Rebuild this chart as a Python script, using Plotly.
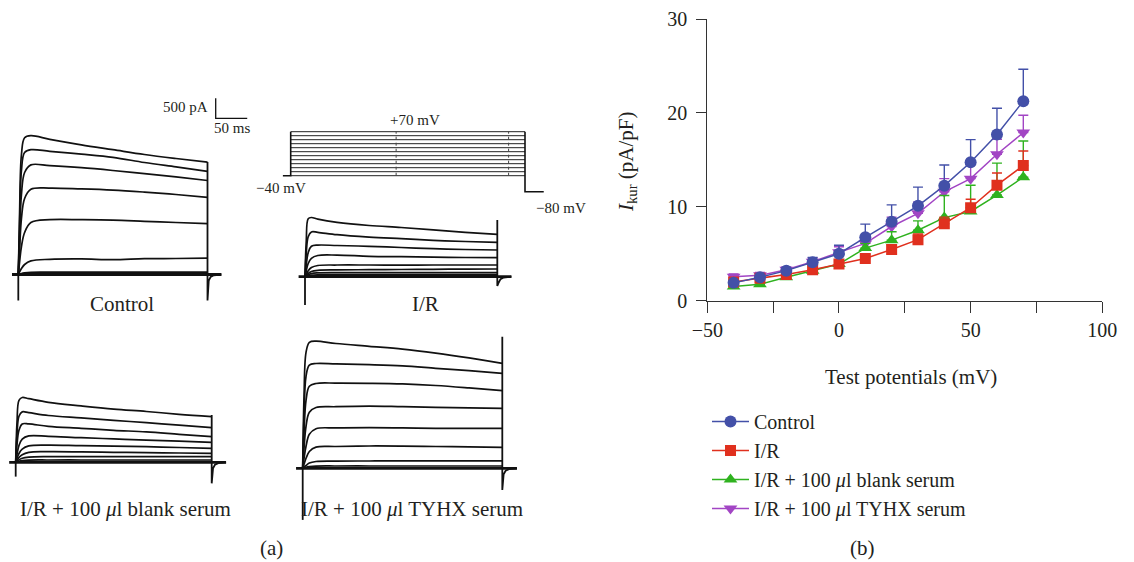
import plotly.graph_objects as go

W, H = 1134, 562
FONT = "Liberation Serif"
INK = "#231f20"

# ---------------- Panel (b) data ----------------
TEST_MV = [-40, -30, -20, -10, 0, 10, 20, 30, 40, 50, 60, 70]
CONTROL = [1.9, 2.5, 3.2, 4.1, 5.0, 6.75, 8.4, 10.1, 12.25, 14.75, 17.7, 21.25]
CONTROL_ERR = [0.2, 0.3, 0.3, 0.5, 0.9, 1.4, 1.8, 2.0, 2.2, 2.4, 2.8, 3.4]
IR = [2.0, 2.4, 2.8, 3.3, 3.9, 4.5, 5.45, 6.5, 8.2, 9.9, 12.3, 14.4]
IR_ERR = [0.2, 0.2, 0.3, 0.3, 0.3, 0.4, 0.5, 0.6, 0.7, 0.9, 1.3, 1.55]
BLANK = [1.5, 1.75, 2.5, 3.2, 3.9, 5.6, 6.45, 7.5, 8.85, 9.5, 11.25, 13.15]
BLANK_ERR = [0.2, 0.2, 0.3, 0.3, 0.4, 0.5, 0.9, 1.0, 2.35, 2.8, 3.4, 3.85]
TYHX = [2.55, 2.7, 3.3, 4.15, 5.15, 6.1, 7.9, 9.3, 11.6, 13.0, 15.6, 17.9]
TYHX_ERR = [0.3, 0.3, 0.3, 0.4, 0.6, 0.8, 1.0, 1.2, 1.4, 1.5, 1.6, 1.85]
SERIES_NAMES = ["Control", "I/R", "I/R + 100 <i>μ</i>l blank serum", "I/R + 100 <i>μ</i>l TYHX serum"]
X_TICKS = [-50, 0, 50, 100]
X_TICKTEXT = ["−50", "0", "50", "100"]
X_MINOR_STEP = 25
Y_TICKS = [0, 10, 20, 30]

# ---------------- Panel (a) data (current traces, pA) ----------------
PULSE_MS = 300
T_MS = [0, 2, 5, 10, 20, 50, 100, 150, 200, 250, 300]
CONTROL_TRACES = [
    [0, 1500, 3000, 3420, 3470, 3380, 3240, 3120, 3000, 2900, 2810],
    [0, 1200, 2600, 3050, 3120, 3080, 3010, 2930, 2800, 2690, 2580],
    [0, 900, 2000, 2550, 2740, 2720, 2670, 2600, 2520, 2440, 2350],
    [0, 600, 1400, 1900, 2130, 2160, 2140, 2110, 2060, 2000, 1930],
    [0, 300, 700, 1050, 1300, 1370, 1370, 1360, 1330, 1300, 1270],
    [0, 60, 150, 250, 340, 380, 390, 370, 395, 400, 408],
    [0, 10, 25, 40, 55, 58, 60, 58, 60, 58, 58],
    [0, 5, 12, 20, 25, 25, 25, 25, 25, 25, 25],
    [0, 2, 5, 8, 10, 10, 10, 10, 10, 10, 10],
]
IR_TRACES = [
    [0, 900, 1450, 1480, 1440, 1360, 1280, 1230, 1170, 1110, 1060],
    [0, 600, 1000, 1120, 1110, 1050, 990, 950, 910, 880, 860],
    [0, 300, 600, 760, 790, 780, 760, 730, 700, 680, 667],
    [0, 150, 330, 460, 530, 540, 510, 500, 490, 480, 475],
    [0, 60, 150, 230, 280, 292, 292, 290, 292, 292, 292],
    [0, 30, 80, 130, 160, 170, 175, 180, 185, 190, 192],
    [0, 20, 50, 80, 95, 100, 100, 100, 100, 100, 100],
    [0, 10, 25, 40, 48, 50, 50, 50, 50, 50, 50],
    [0, 5, 12, 20, 24, 25, 25, 25, 25, 25, 25],
]
BLANK_TRACES = [
    [0, 1000, 1550, 1620, 1590, 1500, 1410, 1330, 1270, 1200, 1142],
    [0, 700, 1150, 1260, 1240, 1170, 1110, 1050, 990, 930, 867],
    [0, 450, 800, 960, 960, 900, 850, 800, 760, 700, 642],
    [0, 200, 420, 580, 660, 650, 615, 585, 555, 530, 500],
    [0, 100, 220, 330, 410, 430, 415, 405, 390, 370, 350],
    [0, 50, 120, 190, 250, 265, 260, 250, 240, 232, 225],
    [0, 20, 60, 100, 130, 142, 142, 142, 142, 142, 142],
    [0, 10, 25, 40, 55, 58, 58, 58, 58, 58, 58],
    [0, 3, 8, 12, 16, 17, 17, 17, 17, 17, 17],
]
TYHX_TRACES = [
    [0, 1800, 2900, 3150, 3180, 3120, 3050, 2980, 2880, 2760, 2625],
    [0, 1300, 2300, 2580, 2620, 2610, 2590, 2560, 2500, 2440, 2375],
    [0, 900, 1700, 2050, 2120, 2130, 2125, 2110, 2070, 2010, 1942],
    [0, 500, 1050, 1400, 1520, 1540, 1555, 1540, 1525, 1510, 1500],
    [0, 250, 550, 850, 990, 1010, 1017, 1010, 1000, 1000, 1000],
    [0, 100, 250, 420, 530, 545, 558, 555, 545, 535, 525],
    [0, 30, 70, 130, 170, 180, 183, 185, 186, 186, 186],
    [0, 10, 25, 40, 55, 58, 58, 58, 58, 58, 58],
]
# capacitive transients (pA): start spike minimum, end vertical top / minimum
START_MIN = {"ctrl": -650, "ir": -708, "blank": -358, "tyhx": -1290}
END_TOP = {"ctrl": 2810, "ir": 1417, "blank": 1183, "tyhx": 3290}
END_MIN = {"ctrl": -650, "ir": -233, "blank": -525, "tyhx": -540}
TAIL_MS = [302, 305, 310, 322]
TAIL_PA = [-150, -60, -20, 0]
PRE_MS = -10
POST_MS = 322
SCALE_PA = 500
SCALE_MS = 50

# voltage protocol (mV)
HOLD_MV = -40
STEPS_MV = [-40, -30, -20, -10, 0, 10, 20, 30, 40, 50, 60, 70]
RETURN_MV = -80
PROTO_MARK_MS = [135, 279]

# ---------------- layout helpers ----------------
PX_PER_PA = 0.04


def dom_x(a, b):
    return [a / W, b / W]


def dom_y(top, bottom):
    return [1 - bottom / H, 1 - top / H]


fig = go.Figure()
layout_axes = {}

PANELS = {
    "ctrl": dict(x0=18.3, x1=207.5, base=274.5, box=(3, 262, 88, 312), data=CONTROL_TRACES, ax=2),
    "ir": dict(x0=305.0, x1=497.3, base=276.7, box=(288, 522, 205, 312), data=IR_TRACES, ax=3),
    "blank": dict(x0=15.7, x1=211.7, base=462.3, box=(2, 240, 385, 490), data=BLANK_TRACES, ax=4),
    "tyhx": dict(x0=302.7, x1=502.3, base=468.3, box=(285, 535, 330, 526), data=TYHX_TRACES, ax=5),
}

hidden = dict(visible=False, showgrid=False, zeroline=False, fixedrange=True, automargin=False)
LINE = dict(color="#111111", width=1.7)

for key, p in PANELS.items():
    pxms = (p["x1"] - p["x0"]) / PULSE_MS
    l, r, t, b = p["box"]
    n = p["ax"]
    xa, ya = f"x{n}", f"y{n}"
    layout_axes[f"xaxis{n}"] = dict(hidden, domain=dom_x(l, r), anchor=ya,
                                    range=[(l - p["x0"]) / pxms, (r - p["x0"]) / pxms])
    layout_axes[f"yaxis{n}"] = dict(hidden, domain=dom_y(t, b), anchor=xa,
                                    range=[(p["base"] - b) / PX_PER_PA, (p["base"] - t) / PX_PER_PA])
    fig.add_trace(go.Scatter(x=[PRE_MS, POST_MS], y=[0, 0], mode="lines", xaxis=xa, yaxis=ya,
                             line=dict(color="#111111", width=2.8), showlegend=False, hoverinfo="skip"))
    fig.add_trace(go.Scatter(x=[0, 0], y=[0, START_MIN[key]], mode="lines", xaxis=xa, yaxis=ya,
                             line=dict(color="#111111", width=1.8), showlegend=False, hoverinfo="skip"))
    for tr in p["data"]:
        fig.add_trace(go.Scatter(x=T_MS, y=tr, mode="lines", xaxis=xa, yaxis=ya, line=LINE,
                                 line_shape="spline", showlegend=False, hoverinfo="skip"))
    fig.add_trace(go.Scatter(x=[PULSE_MS, PULSE_MS] + TAIL_MS,
                             y=[END_TOP[key], END_MIN[key]] + TAIL_PA,
                             mode="lines", xaxis=xa, yaxis=ya,
                             line=dict(color="#111111", width=1.8), showlegend=False, hoverinfo="skip"))
    if key == "ctrl":
        cx = (215.7 - p["x0"]) / pxms
        cy = (p["base"] - 118.3) / PX_PER_PA
        fig.add_trace(go.Scatter(x=[cx, cx, cx + SCALE_MS], y=[cy + SCALE_PA, cy, cy],
                                 mode="lines", xaxis=xa, yaxis=ya,
                                 line=dict(color="#111111", width=1.3), showlegend=False, hoverinfo="skip"))

# voltage protocol axes
PX0, PX1, PXPM, HOLD_PX = 290.7, 525.0, 0.4, 175.7
pms = (PX1 - PX0) / PULSE_MS
pl, pr, pt, pb = 278, 548, 125, 198
layout_axes["xaxis6"] = dict(hidden, domain=dom_x(pl, pr), anchor="y6",
                             range=[(pl - PX0) / pms, (pr - PX0) / pms])
layout_axes["yaxis6"] = dict(hidden, domain=dom_y(pt, pb), anchor="x6",
                             range=[HOLD_MV - (pb - HOLD_PX) / PXPM, HOLD_MV + (HOLD_PX - pt) / PXPM])
for v in STEPS_MV:
    fig.add_trace(go.Scatter(x=[0, PULSE_MS], y=[v, v], mode="lines", xaxis="x6", yaxis="y6",
                             line=dict(color="#222222", width=1.0), showlegend=False, hoverinfo="skip"))
for m in PROTO_MARK_MS:
    fig.add_trace(go.Scatter(x=[m, m], y=[min(STEPS_MV), max(STEPS_MV)], mode="lines", xaxis="x6", yaxis="y6",
                             line=dict(color="#444444", width=1.0, dash="dot"), showlegend=False, hoverinfo="skip"))
fig.add_trace(go.Scatter(x=[PRE_MS, 0, 0], y=[HOLD_MV, HOLD_MV, max(STEPS_MV)], mode="lines",
                         xaxis="x6", yaxis="y6", line=dict(color="#111111", width=1.6),
                         showlegend=False, hoverinfo="skip"))
fig.add_trace(go.Scatter(x=[PULSE_MS, PULSE_MS, PULSE_MS + 24], y=[max(STEPS_MV), RETURN_MV, RETURN_MV],
                         mode="lines", xaxis="x6", yaxis="y6", line=dict(color="#111111", width=1.6),
                         showlegend=False, hoverinfo="skip"))

# ---------------- panel (b) ----------------
COLORS = {"ctrl": "#4350a8", "ir": "#e0301e", "blank": "#2fb21f", "tyhx": "#a245c4"}
series = [
    ("tyhx", TYHX, TYHX_ERR, "triangle-down", 12, 4, SERIES_NAMES[3]),
    ("blank", BLANK, BLANK_ERR, "triangle-up", 12, 3, SERIES_NAMES[2]),
    ("ir", IR, IR_ERR, "square", 11, 2, SERIES_NAMES[1]),
    ("ctrl", CONTROL, CONTROL_ERR, "circle", 12, 1, SERIES_NAMES[0]),
]
for key, ys, err, sym, size, rank, name in series:
    c = COLORS[key]
    fig.add_trace(go.Scatter(
        x=TEST_MV, y=ys, name=name, mode="lines+markers", xaxis="x", yaxis="y",
        line=dict(color=c, width=1.5),
        marker=dict(symbol=sym, size=size, color=c, line=dict(width=0)),
        error_y=dict(type="data", symmetric=False, array=err, arrayminus=[0] * len(err),
                     color=c, thickness=1.4, width=5),
        legendrank=rank, hoverinfo="skip"))

axis_common = dict(showline=True, linecolor="#333333", linewidth=1.3, ticks="outside",
                   tickcolor="#333333", tickwidth=1.3, showgrid=False, zeroline=False,
                   tickfont=dict(family=FONT, size=20, color=INK), fixedrange=True, automargin=False)

layout_axes["xaxis"] = dict(axis_common, domain=dom_x(707.3, 1102.3), anchor="y", range=[-50, 100],
                            tickmode="array", tickvals=X_TICKS, ticktext=X_TICKTEXT, ticklen=11,
                            minor=dict(dtick=X_MINOR_STEP, tick0=-50, ticks="outside", ticklen=11,
                                       tickwidth=1.3, tickcolor="#333333", showgrid=False))
layout_axes["yaxis"] = dict(axis_common, domain=dom_y(19, 300.7), anchor="x", range=[0, 30],
                            tickmode="array", tickvals=Y_TICKS, ticklen=10, ticklabelstandoff=5)


def ann(text, xpx, ypx, size=21, xanchor="center", angle=0):
    return dict(text=text, x=xpx / W, y=1 - ypx / H, xref="paper", yref="paper", showarrow=False,
                xanchor=xanchor, yanchor="middle", textangle=angle,
                font=dict(family=FONT, size=size, color=INK))


annotations = [
    ann("Test potentials (mV)", 911, 377),
    ann("<i>I</i><sub>kur</sub> (pA/pF)", 627, 162, angle=-90),
    ann("Control", 122, 304),
    ann("I/R", 425, 304),
    ann("I/R + 100 <i>μ</i>l blank serum", 125, 509),
    ann("I/R + 100 <i>μ</i>l TYHX serum", 412, 509),
    ann("(a)", 271, 548),
    ann("(b)", 862, 548),
    ann("500 pA", 210, 107, size=15, xanchor="right"),
    ann("50 ms", 232, 128, size=15),
    ann("+70 mV", 415, 120, size=15),
    ann("−40 mV", 281, 188, size=15),
    ann("−80 mV", 561, 208, size=15),
]

fig.update_layout(
    width=W, height=H, margin=dict(l=0, r=0, t=0, b=0, autoexpand=False),
    paper_bgcolor="white", plot_bgcolor="rgba(0,0,0,0)",
    font=dict(family=FONT, color=INK),
    showlegend=True,
    legend=dict(x=707 / W, y=1 - 402 / H, xanchor="left", yanchor="top",
                font=dict(family=FONT, size=20, color=INK), bgcolor="rgba(0,0,0,0)",
                itemwidth=37, traceorder="normal"),
    annotations=annotations,
    **layout_axes,
)

fig.write_html("out.html")
